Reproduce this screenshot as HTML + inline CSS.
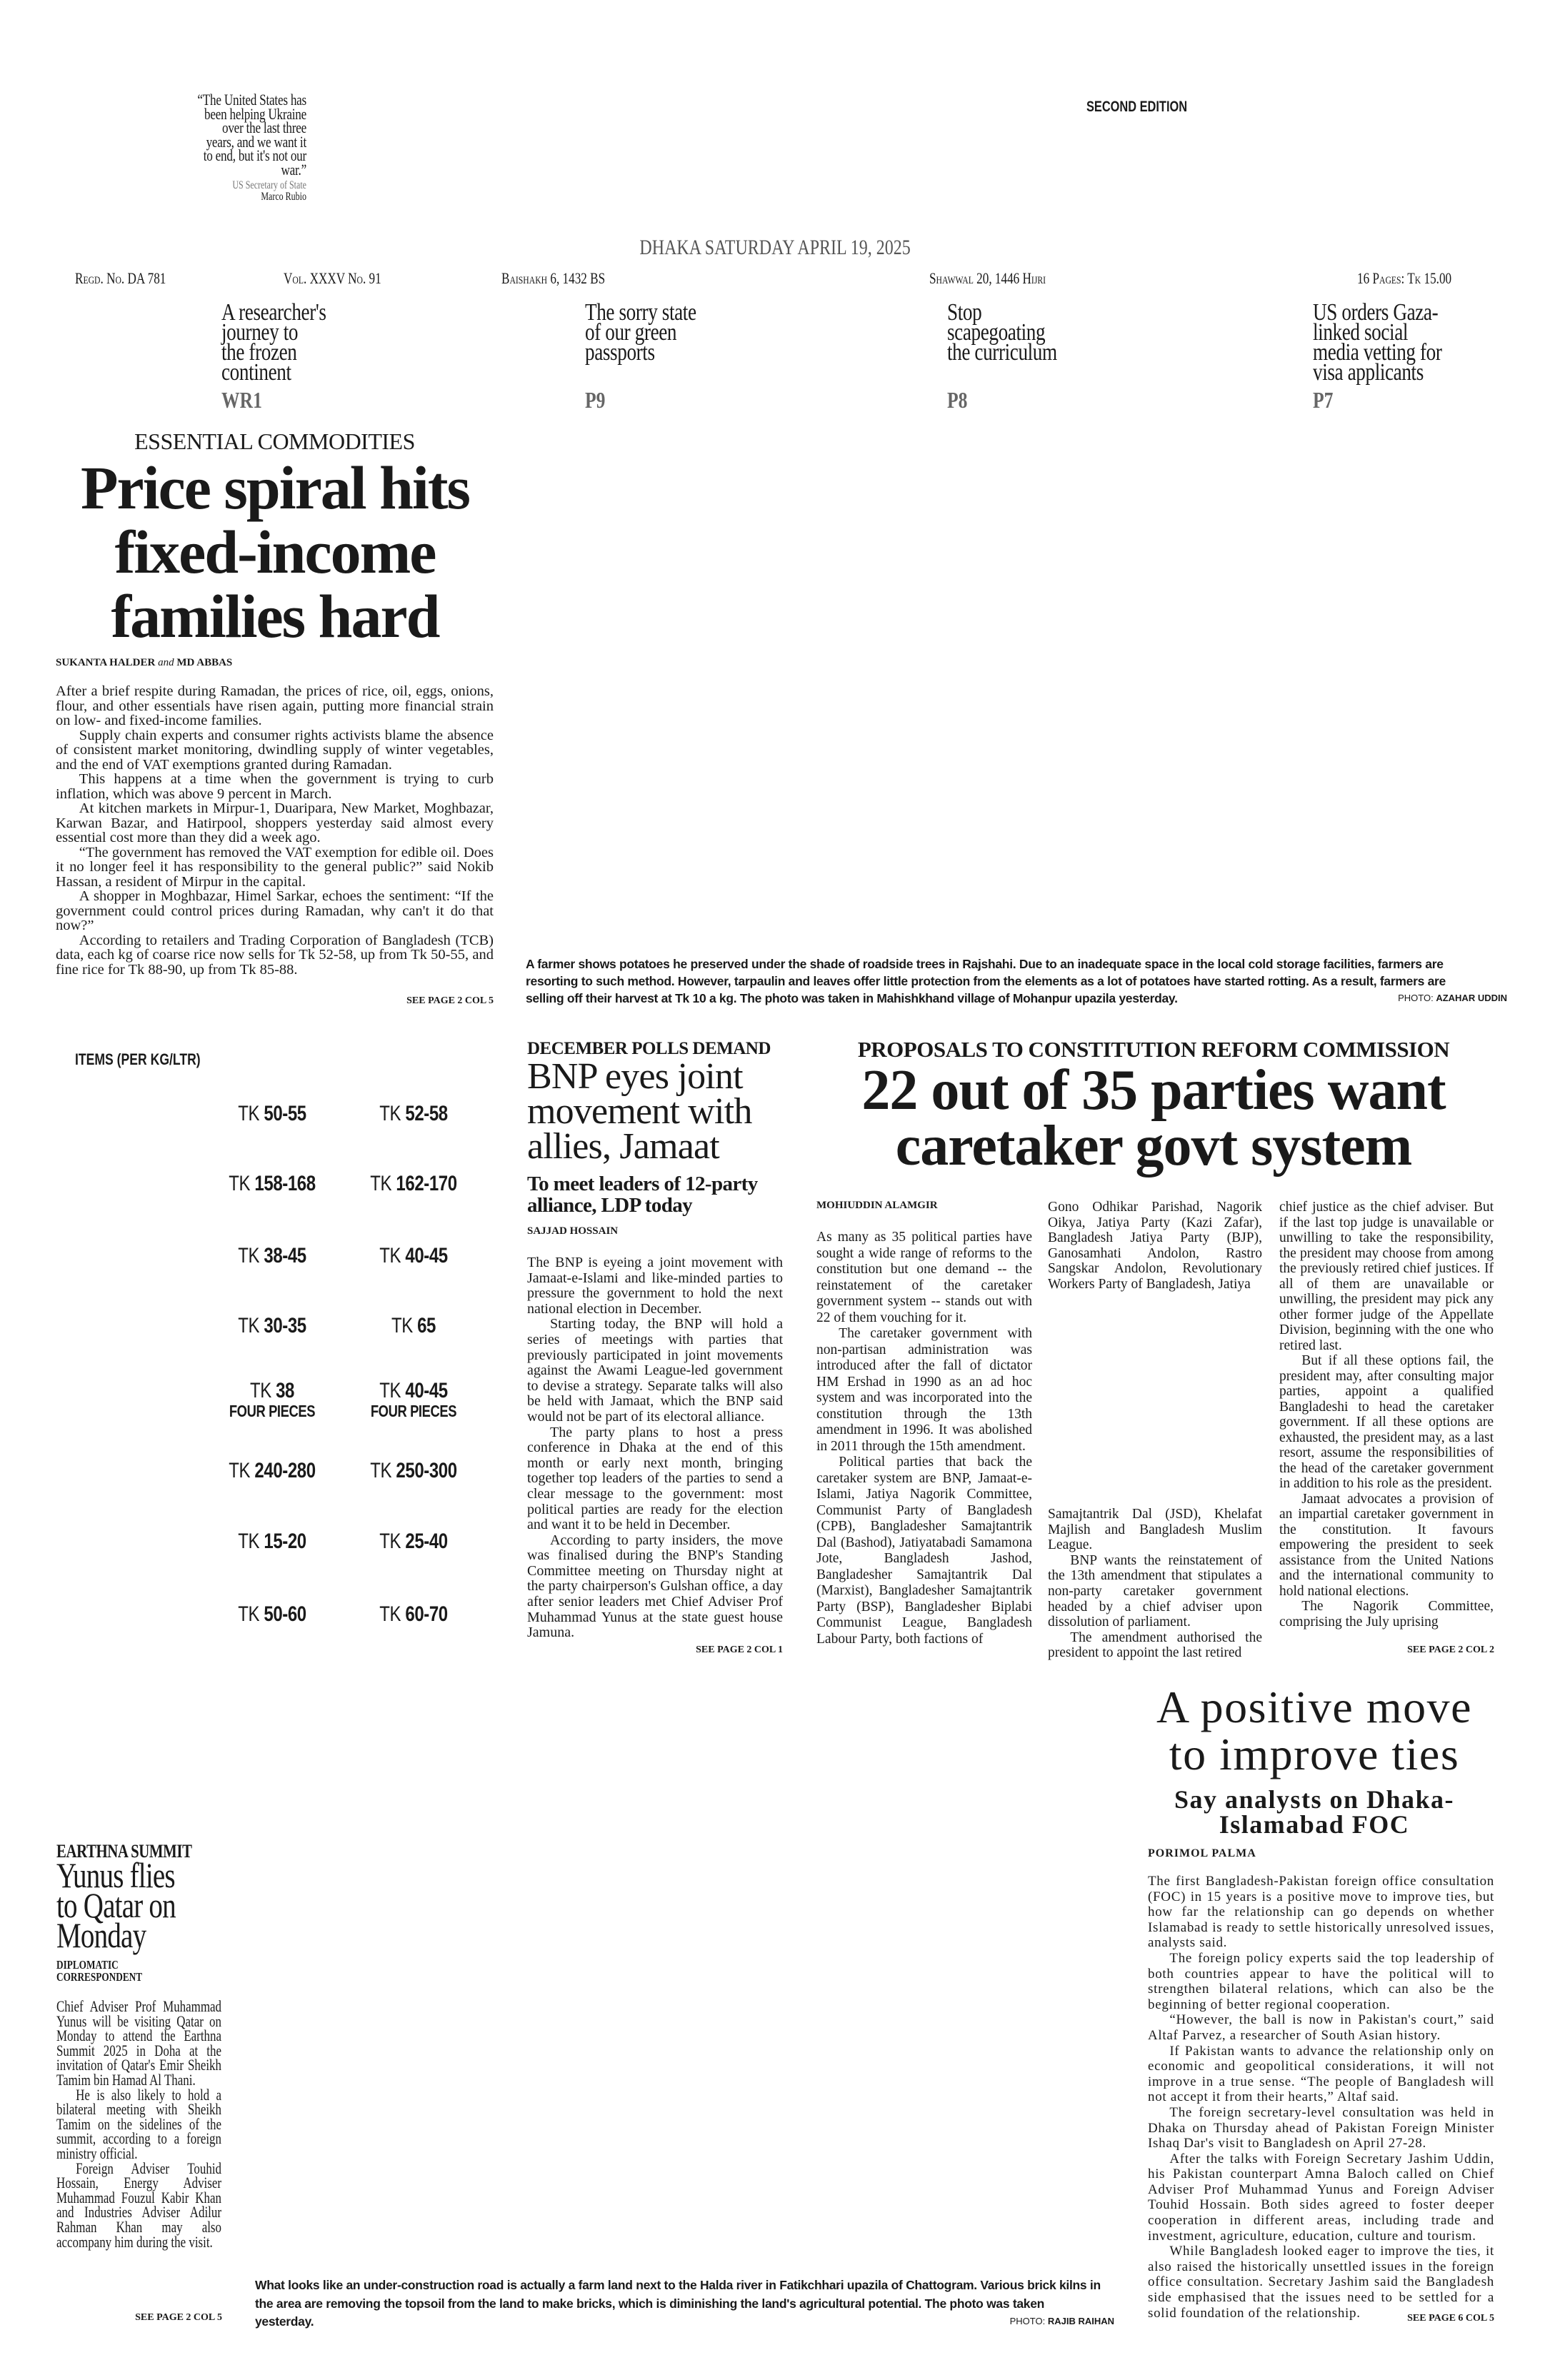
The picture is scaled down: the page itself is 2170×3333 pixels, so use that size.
<!DOCTYPE html>
<html><head><meta charset="utf-8">
<style>
body{margin:0;background:#fff;}
#p{position:relative;width:2170px;height:3333px;overflow:hidden;background:#fff;color:#1a1a1a;font-family:"Liberation Serif",serif;}
.a{position:absolute;}
.n{font-family:"Liberation Sans Narrow","Liberation Sans",sans-serif;}
.j{text-align:justify;}
.j p{margin:0;text-indent:1.6em;}
.j p.f{text-indent:0;}
.see{font-weight:bold;font-size:14px;text-align:right;}
.pr{font-family:"Liberation Sans",sans-serif;font-size:30px;text-align:center;width:275px;letter-spacing:-0.5px;transform:scaleX(0.8);transform-origin:0 0;}
.pr b{font-weight:bold;}
.tz{font-size:34px;line-height:28px;letter-spacing:-0.5px;white-space:nowrap;transform:scaleX(0.8);transform-origin:0 0;}
.pg{font-size:32px;font-weight:bold;color:#666;transform:scaleX(0.8);transform-origin:0 0;}
.info{font-size:22px;top:377px;font-variant:small-caps;transform:scaleX(0.78);transform-origin:0 0;white-space:nowrap;}
</style></head><body><div id="p">

<div class="a" style="left:29px;top:130px;width:400px;transform:scaleX(0.78);transform-origin:100% 0;text-align:right;font-size:22px;line-height:19.5px;letter-spacing:-0.3px;white-space:nowrap;">“The United States has<br>been helping Ukraine<br>over the last three<br>years, and we want it<br>to end, but it's not our<br>war.”</div>
<div class="a" style="left:143px;top:252px;width:286px;transform:scaleX(0.75);transform-origin:100% 0;text-align:right;font-size:16px;line-height:16px;color:#777;">US Secretary of State</div>
<div class="a" style="left:143px;top:268px;width:286px;transform:scaleX(0.75);transform-origin:100% 0;text-align:right;font-size:16px;line-height:16px;">Marco Rubio</div>
<div class="a n" style="left:1521px;top:138px;font-size:21px;font-weight:bold;transform:scaleX(0.78);transform-origin:0 0;white-space:nowrap;">SECOND EDITION</div>

<div class="a" style="left:0;width:2170px;top:330px;text-align:center;font-size:30px;color:#555;"><span style="display:inline-block;transform:scaleX(0.8);">DHAKA SATURDAY APRIL 19, 2025</span></div>
<div class="a info" style="left:105px;">Regd. No. DA 781</div>
<div class="a info" style="left:397px;">Vol. XXXV No. 91</div>
<div class="a info" style="left:702px;">Baishakh 6, 1432 BS</div>
<div class="a info" style="left:1301px;">Shawwal 20, 1446 Hijri</div>
<div class="a info" style="left:1900px;">16 Pages: Tk 15.00</div>

<div class="a tz" style="left:310px;top:424px;">A researcher's<br>journey to<br>the frozen<br>continent</div>
<div class="a pg" style="left:310px;top:542px;">WR1</div>
<div class="a tz" style="left:819px;top:424px;">The sorry state<br>of our green<br>passports</div>
<div class="a pg" style="left:819px;top:542px;">P9</div>
<div class="a tz" style="left:1326px;top:424px;">Stop<br>scapegoating<br>the curriculum</div>
<div class="a pg" style="left:1326px;top:542px;">P8</div>
<div class="a tz" style="left:1838px;top:424px;">US orders Gaza-<br>linked social<br>media vetting for<br>visa applicants</div>
<div class="a pg" style="left:1838px;top:542px;">P7</div>

<div class="a" style="left:78px;width:613px;top:600px;text-align:center;font-size:32px;letter-spacing:-0.5px;">ESSENTIAL COMMODITIES</div>
<div class="a" style="left:60px;width:650px;top:638px;text-align:center;font-size:86px;line-height:90px;font-weight:bold;letter-spacing:-2px;">Price spiral hits fixed-income families hard</div>
<div class="a" style="left:78px;top:920px;font-size:15px;font-weight:bold;">SUKANTA HALDER <i style="font-weight:normal">and</i> MD ABBAS</div>
<div class="a j" style="left:78px;top:958px;width:613px;font-size:20.5px;line-height:20.5px;">
<p class="f">After a brief respite during Ramadan, the prices of rice, oil, eggs, onions, flour, and other essentials have risen again, putting more financial strain on low- and fixed-income families.</p>
<p>Supply chain experts and consumer rights activists blame the absence of consistent market monitoring, dwindling supply of winter vegetables, and the end of VAT exemptions granted during Ramadan.</p>
<p>This happens at a time when the government is trying to curb inflation, which was above 9 percent in March.</p>
<p>At kitchen markets in Mirpur-1, Duaripara, New Market, Moghbazar, Karwan Bazar, and Hatirpool, shoppers yesterday said almost every essential cost more than they did a week ago.</p>
<p>“The government has removed the VAT exemption for edible oil. Does it no longer feel it has responsibility to the general public?” said Nokib Hassan, a resident of Mirpur in the capital.</p>
<p>A shopper in Moghbazar, Himel Sarkar, echoes the sentiment: “If the government could control prices during Ramadan, why can't it do that now?”</p>
<p>According to retailers and Trading Corporation of Bangladesh (TCB) data, each kg of coarse rice now sells for Tk 52-58, up from Tk 50-55, and fine rice for Tk 88-90, up from Tk 85-88.</p>
</div>
<div class="a see" style="left:491px;width:200px;top:1394px;">SEE PAGE 2 COL 5</div>

<div class="a n" style="left:736px;top:1338px;width:1340px;font-size:17.5px;line-height:24px;font-weight:bold;letter-spacing:-0.3px;">A farmer shows potatoes he preserved under the shade of roadside trees in Rajshahi. Due to an inadequate space in the local cold storage facilities, farmers are resorting to such method. However, tarpaulin and leaves offer little protection from the elements as a lot of potatoes have started rotting. As a result, farmers are selling off their harvest at Tk 10 a kg. The photo was taken in Mahishkhand village of Mohanpur upazila yesterday.</div>
<div class="a n" style="left:1880px;top:1390px;width:230px;text-align:right;font-size:13px;">PHOTO: <b>AZAHAR UDDIN</b></div>

<div class="a n" style="left:105px;top:1471px;font-size:22px;font-weight:bold;transform:scaleX(0.8);transform-origin:0 0;white-space:nowrap;">ITEMS (PER KG/LTR)</div>
<div class="a pr" style="left:271px;top:1543px;">TK <b>50-55</b></div><div class="a pr" style="left:469px;top:1543px;">TK <b>52-58</b></div>
<div class="a pr" style="left:271px;top:1641px;">TK <b>158-168</b></div><div class="a pr" style="left:469px;top:1641px;">TK <b>162-170</b></div>
<div class="a pr" style="left:271px;top:1742px;">TK <b>38-45</b></div><div class="a pr" style="left:469px;top:1742px;">TK <b>40-45</b></div>
<div class="a pr" style="left:271px;top:1840px;">TK <b>30-35</b></div><div class="a pr" style="left:469px;top:1840px;">TK <b>65</b></div>
<div class="a pr" style="left:271px;top:1934px;line-height:27px;">TK <b>38</b><br><b style="font-size:23px">FOUR PIECES</b></div><div class="a pr" style="left:469px;top:1934px;line-height:27px;">TK <b>40-45</b><br><b style="font-size:23px">FOUR PIECES</b></div>
<div class="a pr" style="left:271px;top:2043px;">TK <b>240-280</b></div><div class="a pr" style="left:469px;top:2043px;">TK <b>250-300</b></div>
<div class="a pr" style="left:271px;top:2142px;">TK <b>15-20</b></div><div class="a pr" style="left:469px;top:2142px;">TK <b>25-40</b></div>
<div class="a pr" style="left:271px;top:2244px;">TK <b>50-60</b></div><div class="a pr" style="left:469px;top:2244px;">TK <b>60-70</b></div>

<div class="a" style="left:738px;top:1455px;font-size:25px;font-weight:bold;letter-spacing:-0.5px;">DECEMBER POLLS DEMAND</div>
<div class="a" style="left:738px;top:1483px;width:370px;font-size:52px;line-height:49px;letter-spacing:-0.8px;">BNP eyes joint movement with allies, Jamaat</div>
<div class="a" style="left:738px;top:1643px;width:370px;font-size:29px;line-height:30px;font-weight:bold;letter-spacing:-0.6px;">To meet leaders of 12-party alliance, LDP today</div>
<div class="a" style="left:738px;top:1716px;font-size:15px;font-weight:bold;">SAJJAD HOSSAIN</div>
<div class="a j" style="left:738px;top:1758px;width:358px;font-size:20px;line-height:21.6px;">
<p class="f">The BNP is eyeing a joint movement with Jamaat-e-Islami and like-minded parties to pressure the government to hold the next national election in December.</p>
<p>Starting today, the BNP will hold a series of meetings with parties that previously participated in joint movements against the Awami League-led government to devise a strategy. Separate talks will also be held with Jamaat, which the BNP said would not be part of its electoral alliance.</p>
<p>The party plans to host a press conference in Dhaka at the end of this month or early next month, bringing together top leaders of the parties to send a clear message to the government: most political parties are ready for the election and want it to be held in December.</p>
<p>According to party insiders, the move was finalised during the BNP's Standing Committee meeting on Thursday night at the party chairperson's Gulshan office, a day after senior leaders met Chief Adviser Prof Muhammad Yunus at the state guest house Jamuna.</p>
</div>
<div class="a see" style="left:896px;width:200px;top:2303px;">SEE PAGE 2 COL 1</div>

<div class="a" style="left:1140px;width:950px;top:1452px;text-align:center;font-size:31px;font-weight:bold;letter-spacing:-0.5px;">PROPOSALS TO CONSTITUTION REFORM COMMISSION</div>
<div class="a" style="left:1120px;width:990px;top:1488px;text-align:center;font-size:80px;line-height:78px;font-weight:bold;letter-spacing:-1px;">22 out of 35 parties want caretaker govt system</div>
<div class="a" style="left:1143px;top:1680px;font-size:15px;font-weight:bold;">MOHIUDDIN ALAMGIR</div>
<div class="a j" style="left:1143px;top:1722px;width:302px;font-size:19.5px;line-height:22.5px;">
<p class="f">As many as 35 political parties have sought a wide range of reforms to the constitution but one demand -- the reinstatement of the caretaker government system -- stands out with 22 of them vouching for it.</p>
<p>The caretaker government with non-partisan administration was introduced after the fall of dictator HM Ershad in 1990 as an ad hoc system and was incorporated into the constitution through the 13th amendment in 1996. It was abolished in 2011 through the 15th amendment.</p>
<p>Political parties that back the caretaker system are BNP, Jamaat-e-Islami, Jatiya Nagorik Committee, Communist Party of Bangladesh (CPB), Bangladesher Samajtantrik Dal (Bashod), Jatiyatabadi Samamona Jote, Bangladesh Jashod, Bangladesher Samajtantrik Dal (Marxist), Bangladesher Samajtantrik Party (BSP), Bangladesher Biplabi Communist League, Bangladesh Labour Party, both factions of</p>
</div>
<div class="a j" style="left:1467px;top:1680px;width:300px;font-size:19.5px;line-height:21.6px;">
<p class="f">Gono Odhikar Parishad, Nagorik Oikya, Jatiya Party (Kazi Zafar), Bangladesh Jatiya Party (BJP), Ganosamhati Andolon, Rastro Sangskar Andolon, Revolutionary Workers Party of Bangladesh, Jatiya</p>
</div>
<div class="a j" style="left:1467px;top:2110px;width:300px;font-size:19.5px;line-height:21.6px;">
<p class="f">Samajtantrik Dal (JSD), Khelafat Majlish and Bangladesh Muslim League.</p>
<p>BNP wants the reinstatement of the 13th amendment that stipulates a non-party caretaker government headed by a chief adviser upon dissolution of parliament.</p>
<p>The amendment authorised the president to appoint the last retired</p>
</div>
<div class="a j" style="left:1791px;top:1680px;width:300px;font-size:19.5px;line-height:21.5px;">
<p class="f">chief justice as the chief adviser. But if the last top judge is unavailable or unwilling to take the responsibility, the president may choose from among the previously retired chief justices. If all of them are unavailable or unwilling, the president may pick any other former judge of the Appellate Division, beginning with the one who retired last.</p>
<p>But if all these options fail, the president may, after consulting major parties, appoint a qualified Bangladeshi to head the caretaker government. If all these options are exhausted, the president may, as a last resort, assume the responsibilities of the head of the caretaker government in addition to his role as the president.</p>
<p>Jamaat advocates a provision of an impartial caretaker government in the constitution. It favours empowering the president to seek assistance from the United Nations and the international community to hold national elections.</p>
<p>The Nagorik Committee, comprising the July uprising</p>
</div>
<div class="a see" style="left:1892px;width:200px;top:2303px;">SEE PAGE 2 COL 2</div>

<div class="a" style="left:1590px;width:500px;top:2358px;text-align:center;font-size:64px;line-height:66px;letter-spacing:1.5px;">A positive move to improve ties</div>
<div class="a" style="left:1590px;width:500px;top:2503px;text-align:center;font-size:36px;line-height:35px;font-weight:bold;letter-spacing:1.5px;">Say analysts on Dhaka-Islamabad FOC</div>
<div class="a" style="left:1607px;top:2587px;font-size:16px;font-weight:bold;letter-spacing:1px;">PORIMOL PALMA</div>
<div class="a j" style="left:1607px;top:2624px;width:485px;font-size:19px;line-height:21.6px;letter-spacing:0.7px;">
<p class="f">The first Bangladesh-Pakistan foreign office consultation (FOC) in 15 years is a positive move to improve ties, but how far the relationship can go depends on whether Islamabad is ready to settle historically unresolved issues, analysts said.</p>
<p>The foreign policy experts said the top leadership of both countries appear to have the political will to strengthen bilateral relations, which can also be the beginning of better regional cooperation.</p>
<p>“However, the ball is now in Pakistan's court,” said Altaf Parvez, a researcher of South Asian history.</p>
<p>If Pakistan wants to advance the relationship only on economic and geopolitical considerations, it will not improve in a true sense. “The people of Bangladesh will not accept it from their hearts,” Altaf said.</p>
<p>The foreign secretary-level consultation was held in Dhaka on Thursday ahead of Pakistan Foreign Minister Ishaq Dar's visit to Bangladesh on April 27-28.</p>
<p>After the talks with Foreign Secretary Jashim Uddin, his Pakistan counterpart Amna Baloch called on Chief Adviser Prof Muhammad Yunus and Foreign Adviser Touhid Hossain. Both sides agreed to foster deeper cooperation in different areas, including trade and investment, agriculture, education, culture and tourism.</p>
<p>While Bangladesh looked eager to improve the ties, it also raised the historically unsettled issues in the foreign office consultation. Secretary Jashim said the Bangladesh side emphasised that the issues need to be settled for a solid foundation of the relationship.</p>
</div>
<div class="a see" style="left:1892px;width:200px;top:3239px;">SEE PAGE 6 COL 5</div>

<div class="a" style="left:79px;top:2578px;font-size:26px;font-weight:bold;letter-spacing:-0.5px;transform:scaleX(0.8);transform-origin:0 0;white-space:nowrap;">EARTHNA SUMMIT</div>
<div class="a" style="left:79px;top:2605px;font-size:50px;line-height:42px;letter-spacing:-1px;transform:scaleX(0.78);transform-origin:0 0;white-space:nowrap;">Yunus flies<br>to Qatar on<br>Monday</div>
<div class="a" style="left:79px;top:2743px;width:250px;font-size:17px;line-height:17px;font-weight:bold;transform:scaleX(0.78);transform-origin:0 0;">DIPLOMATIC<br>CORRESPONDENT</div>
<div class="a j" style="left:79px;top:2800px;width:300px;font-size:22px;line-height:20.6px;transform:scaleX(0.77);transform-origin:0 0;">
<p class="f">Chief Adviser Prof Muhammad Yunus will be visiting Qatar on Monday to attend the Earthna Summit 2025 in Doha at the invitation of Qatar's Emir Sheikh Tamim bin Hamad Al Thani.</p>
<p>He is also likely to hold a bilateral meeting with Sheikh Tamim on the sidelines of the summit, according to a foreign ministry official.</p>
<p>Foreign Adviser Touhid Hossain, Energy Adviser Muhammad Fouzul Kabir Khan and Industries Adviser Adilur Rahman Khan may also accompany him during the visit.</p>
</div>
<div class="a see" style="left:111px;width:200px;top:3238px;">SEE PAGE 2 COL 5</div>

<div class="a n" style="left:357px;top:3188px;width:1190px;font-size:17.5px;line-height:25.5px;font-weight:bold;letter-spacing:-0.3px;">What looks like an under-construction road is actually a farm land next to the Halda river in Fatikchhari upazila of Chattogram. Various brick kilns in the area are removing the topsoil from the land to make bricks, which is diminishing the land's agricultural potential. The photo was taken yesterday.</div>
<div class="a n" style="left:1330px;top:3243px;width:230px;text-align:right;font-size:13px;">PHOTO: <b>RAJIB RAIHAN</b></div>

</div></body></html>
